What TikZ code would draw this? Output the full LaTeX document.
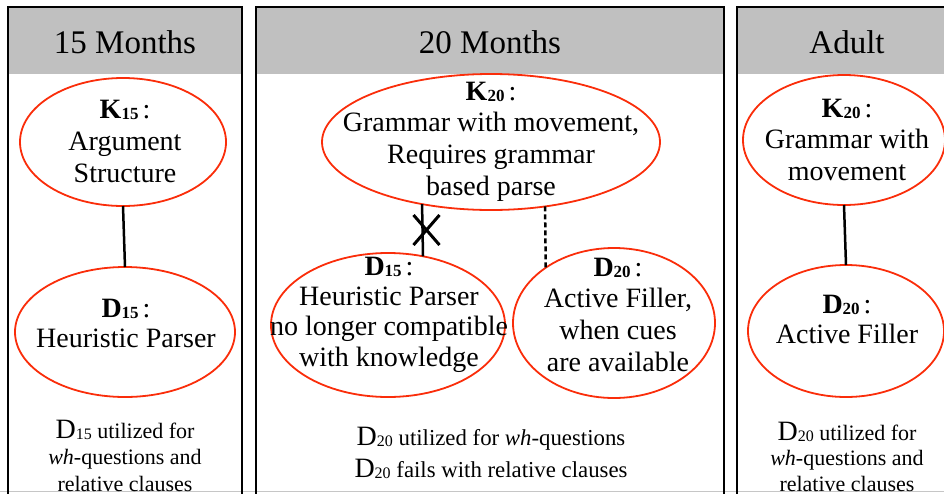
\documentclass[tikz,border=0pt]{standalone}
\usepackage{fontspec}
\setmainfont{Liberation Serif}
\usetikzlibrary{shapes.geometric}
\definecolor{ellred}{RGB}{250,45,10}
\definecolor{hdrgray}{RGB}{192,192,192}
\newcommand\st{\rule{0pt}{20pt}}
\newcommand\Klab[2]{\st\textbf{#1}\raisebox{-1.5pt}{\fontsize{17}{17}\selectfont\textbf{#2}}\hspace{4pt}:}
\newcommand\Dsub[1]{{\fontsize{28}{28}\selectfont D\raisebox{-1.5pt}{\fontsize{16}{16}\selectfont #1}}}
\begin{document}
\begin{tikzpicture}[x=1pt,y=-1pt,
  ell/.style={ellipse, draw=ellred, line width=1.8pt, inner sep=0pt, outer sep=0pt},
  txt/.style={anchor=north, inner sep=0pt, align=center},
  hdr/.style={anchor=base, inner sep=0pt, font=\fontsize{33}{33}\selectfont},
  panel/.style={draw=black, line width=2.2pt},
  conn/.style={draw=black, line width=2.5pt},
  dconn/.style={draw=black, line width=2.5pt, dash pattern=on 5pt off 3pt},
  xmark/.style={draw=black, line width=3pt}]
\useasboundingbox (0,0) rectangle (944,493);
\clip (0,0) rectangle (944,493);
% panels
\fill[hdrgray] (8,7) rectangle (242,74);
\fill[hdrgray] (256,7) rectangle (724,74);
\fill[hdrgray] (737,7) rectangle (970,74);
\draw[gray!45, line width=1pt] (0,491.5) -- (944,491.5);
\draw[panel] (8,530) -- (8,7) -- (242,7) -- (242,530);
\draw[panel] (256,530) -- (256,7) -- (724,7) -- (724,530);
\draw[panel] (737,530) -- (737,7) -- (970,7);
% headers
\node[hdr] (h1) at (125,53) {15 Months};
\node[hdr] (h2) at (490,53) {20 Months};
\node[hdr] (h3) at (847,53) {Adult};
% ellipses
\node[ell, minimum width=206pt, minimum height=128pt] (k15) at (123,142) {};
\node[ell, minimum width=220pt, minimum height=130pt] (d15) at (125,332) {};
\node[ell, minimum width=338pt, minimum height=136pt] (k20b) at (491,142) {};
\node[ell, minimum width=234pt, minimum height=144pt] (d15b) at (388,325) {};
\node[ell, minimum width=202pt, minimum height=150pt] (d20b) at (614,323) {};
\node[ell, minimum width=202pt, minimum height=130pt] (k20c) at (844,140) {};
\node[ell, minimum width=196pt, minimum height=132pt] (d20c) at (846,331) {};
% ellipse texts
\node[txt, font=\fontsize{28}{32}\selectfont] (k15t) at (125,98) {\Klab{K}{15}\\Argument\\Structure};
\node[txt, font=\fontsize{28}{30}\selectfont] (d15t) at (126,297) {\Klab{D}{15}\\Heuristic Parser};
\node[txt, font=\fontsize{28}{31.7}\selectfont] (k20bt) at (491,80) {\Klab{K}{20}\\Grammar with movement,\\Requires grammar\\based parse};
\node[txt, font=\fontsize{28}{30.3}\selectfont] (d15bt) at (389,255) {\Klab{D}{15}\\Heuristic Parser\\no longer compatible\\with knowledge};
\node[txt, font=\fontsize{28}{31.7}\selectfont] (d20bt) at (618,256) {\Klab{D}{20}\\Active Filler,\\when cues\\are available};
\node[txt, font=\fontsize{28}{31.5}\selectfont] (k20ct) at (847,97) {\Klab{K}{20}\\Grammar with\\movement};
\node[txt, font=\fontsize{28}{30}\selectfont] (d20ct) at (847,293) {\Klab{D}{20}\\Active Filler};
% bottom texts
\node[txt, font=\fontsize{22}{26.5}\selectfont] (b1) at (125,418) {\st\Dsub{15} utilized for\\\textit{wh}-questions and\\relative clauses};
\node[txt, font=\fontsize{22.8}{32}\selectfont] (b2) at (491,425) {\st\Dsub{20} utilized for \textit{wh}-questions\\\Dsub{20} fails with relative clauses};
\node[txt, font=\fontsize{22}{25.5}\selectfont] (b3) at (847,420) {\st\Dsub{20} utilized for\\\textit{wh}-questions and\\relative clauses};
% connectors
\draw[conn] (k15.south) -- (d15.north);
\draw[conn] (k20b.222.5) -- (d15b.63);
\draw[dconn] (k20b.-50) -- (d20b.141.5);
\draw[conn] (k20c.south) -- (d20c.north);
\coordinate (xm) at (426.5,230);
\draw[xmark] (xm) +(-13,-15) -- +(13,15);
\draw[xmark] (xm) +(-13,15) -- +(13,-15);
\end{tikzpicture}
\end{document}
